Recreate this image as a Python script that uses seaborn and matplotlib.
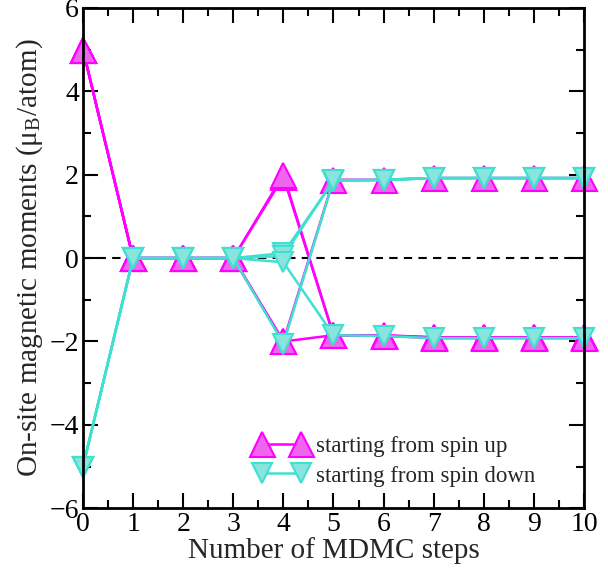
import matplotlib
matplotlib.use("Agg")
import matplotlib.pyplot as plt
import seaborn as sns
import numpy as np
from matplotlib.lines import Line2D
from matplotlib.ticker import MultipleLocator

steps = [0, 1, 2, 3, 4, 5, 6, 7, 8, 9, 10]

# starting from spin up (magenta)
up_1 = [5, 0, 0, 0, 1.95, -1.85, -1.85, -1.90, -1.90, -1.90, -1.90]
up_2 = [5, 0, 0, 0, 2.00, -1.85, -1.86, -1.90, -1.90, -1.90, -1.90]
up_3 = [5, 0, 0, 0, -2.00, 1.88, 1.88, 1.92, 1.92, 1.92, 1.92]
up_4 = [5, 0, 0, 0, -2.00, -1.85, -1.86, -1.92, -1.92, -1.92, -1.92]

# starting from spin down (turquoise)
dn_1 = [-5, 0, 0, 0, 0.12, 1.85, 1.87, 1.92, 1.92, 1.92, 1.92]
dn_2 = [-5, 0, 0, 0, 0.05, 1.86, 1.87, 1.92, 1.92, 1.92, 1.92]
dn_3 = [-5, 0, 0, 0, -0.10, -1.85, -1.87, -1.92, -1.92, -1.92, -1.92]
dn_4 = [-5, 0, 0, 0, -2.05, 1.87, 1.88, 1.92, 1.92, 1.92, 1.92]

up_series = [up_1, up_2, up_3, up_4]
dn_series = [dn_1, dn_2, dn_3, dn_4]

labels = ["starting from spin up", "starting from spin down"]

sns.set_style("ticks")
plt.rcParams['font.family'] = ['Liberation Serif', 'DejaVu Serif']
plt.rcParams['mathtext.fontset'] = 'stix'

fig = plt.figure(figsize=(6.08, 5.71), dpi=100)
ax = fig.add_axes([0.1365, 0.110, 0.824, 0.876])

mag = '#FF00FF'
mag_fill = '#EE66EE'
cyan = '#40E0D0'
cyan_fill = '#88E4DC'

up_ms = 18
dn_ms = 14.5

ax.axhline(0, color='black', linestyle=(0, (4, 3)), linewidth=1.5, zorder=1)

for s in up_series:
    sns.lineplot(x=steps, y=s, ax=ax, color=mag, linewidth=1.8, marker='^',
                 markersize=up_ms, markerfacecolor=mag_fill, markeredgecolor=mag,
                 markeredgewidth=1.5, clip_on=False, zorder=3)
for s in dn_series:
    sns.lineplot(x=steps, y=s, ax=ax, color=cyan, linewidth=1.8, marker='v',
                 markersize=dn_ms, markerfacecolor=cyan_fill, markeredgecolor=cyan,
                 markeredgewidth=1.5, clip_on=False, zorder=4)

ax.set_xlim(0, 10)
ax.set_ylim(-6, 6)
ax.xaxis.set_major_locator(MultipleLocator(1))
ax.xaxis.set_minor_locator(MultipleLocator(0.5))
ax.yaxis.set_major_locator(MultipleLocator(2))
ax.yaxis.set_minor_locator(MultipleLocator(1))
ax.tick_params(which='both', direction='in', top=True, right=True, width=1.5,
               labelsize=20, colors='black')
ax.tick_params(which='major', length=11, pad=3)
ax.tick_params(which='minor', length=6)
for sp in ax.spines.values():
    sp.set_linewidth(2)
    sp.set_color('black')
    sp.set_zorder(5)

ax.set_xlabel("Number of MDMC steps", fontsize=21, labelpad=0)
ax.set_ylabel("On-site magnetic moments (μ$_\\mathregular{B}$/atom)", fontsize=21, labelpad=3)

handles = [
    Line2D([], [], color=mag, linewidth=1.8, marker='^', markersize=up_ms,
           markerfacecolor=mag_fill, markeredgecolor=mag, markeredgewidth=1.5),
    Line2D([], [], color=cyan, linewidth=1.8, marker='v', markersize=dn_ms,
           markerfacecolor=cyan_fill, markeredgecolor=cyan, markeredgewidth=1.5),
]
leg = ax.legend(handles, labels, loc='lower left', bbox_to_anchor=(0.325, 0.025),
                frameon=False, numpoints=2, handlelength=2.3, fontsize=16.5,
                handletextpad=0.35, labelspacing=0.35, borderaxespad=0)

fig.savefig("out.png", dpi=100)
